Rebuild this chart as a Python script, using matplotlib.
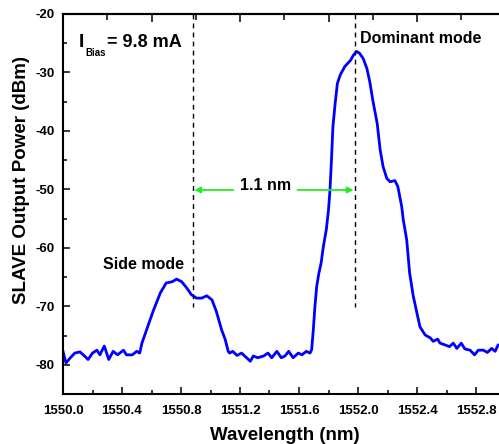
import matplotlib
matplotlib.use("Agg")
import matplotlib.pyplot as plt
from matplotlib.ticker import MultipleLocator, FixedLocator, NullFormatter

plt.rcParams['font.family'] = ['Liberation Sans', 'DejaVu Sans']
plt.rcParams['font.weight'] = 'bold'

# Spectrum (wavelength nm, power dBm)
wavelength = [
    1550.000, 1550.020, 1550.050, 1550.080, 1550.115, 1550.150, 1550.170, 1550.200,
    1550.230, 1550.250, 1550.280, 1550.310, 1550.340, 1550.370, 1550.410, 1550.430,
    1550.470, 1550.500, 1550.520, 1550.535, 1550.567, 1550.610, 1550.660, 1550.700,
    1550.740, 1550.770, 1550.805, 1550.840, 1550.870, 1550.905, 1550.940, 1550.975,
    1551.010, 1551.040, 1551.075, 1551.100, 1551.120, 1551.130, 1551.150, 1551.180,
    1551.210, 1551.245, 1551.270, 1551.290, 1551.320, 1551.360, 1551.390, 1551.415,
    1551.450, 1551.480, 1551.505, 1551.530, 1551.560, 1551.595, 1551.620, 1551.650,
    1551.675, 1551.686, 1551.697, 1551.708, 1551.720, 1551.735, 1551.750, 1551.765,
    1551.785, 1551.800, 1551.810, 1551.820, 1551.830, 1551.845, 1551.860, 1551.880,
    1551.910, 1551.950, 1551.970, 1551.990, 1552.010, 1552.035, 1552.060, 1552.080,
    1552.100, 1552.130, 1552.150, 1552.170, 1552.195, 1552.217, 1552.250, 1552.270,
    1552.296, 1552.307, 1552.330, 1552.350, 1552.375, 1552.400, 1552.420, 1552.455,
    1552.490, 1552.510, 1552.540, 1552.556, 1552.590, 1552.620, 1552.646, 1552.670,
    1552.700, 1552.725, 1552.760, 1552.790, 1552.816, 1552.850, 1552.877, 1552.906,
    1552.930, 1552.950, 1552.990,
]
power = [
    -77.7, -79.7, -78.8, -78.0, -77.8, -78.6, -79.1, -78.0,
    -77.5, -78.3, -76.8, -79.1, -77.7, -78.3, -77.5, -78.3,
    -78.3, -77.7, -78.0, -76.3, -74.0, -70.9, -67.7, -66.0,
    -65.8, -65.35, -65.8, -66.9, -68.0, -68.6, -68.6, -68.2,
    -68.9, -70.9, -74.0, -75.7, -77.7, -78.0, -77.7, -78.4,
    -78.0, -78.8, -79.4, -78.5, -78.8, -78.5, -78.0, -78.8,
    -77.7, -78.8, -78.5, -77.7, -78.8, -78.0, -78.3, -77.7,
    -78.0, -77.4, -74.0, -70.0, -66.6, -64.3, -62.6, -59.8,
    -56.9, -53.5, -50.1, -45.0, -39.3, -35.3, -31.9, -30.4,
    -29.0, -27.9, -27.0, -26.4, -26.7, -27.6, -29.3, -31.6,
    -34.7, -38.7, -43.2, -46.1, -48.1, -48.7, -48.5, -49.5,
    -52.9, -55.2, -58.6, -64.3, -68.3, -71.2, -73.5, -74.9,
    -75.4, -76.0, -75.6, -76.3, -76.6, -76.9, -76.3, -77.2,
    -76.3, -77.3, -77.5, -78.3, -77.5, -77.5, -77.9, -77.2,
    -77.7, -76.6, -77.0,
]

side_mode_wl = 1550.88
dominant_wl = 1551.98
gap_label = "1.1 nm"

W, H = 499, 444
fig = plt.figure(figsize=(W / 100, H / 100), dpi=100)
left, right = 63 / W, (63 + 442.5) / W
bottom, top = 1 - 394 / H, 1 - 14 / H
ax = fig.add_axes([left, bottom, right - left, top - bottom])

ax.plot(wavelength, power, color='#0000ff', lw=2.0, solid_joinstyle='round')

ax.set_xlim(1550.0, 1553.0)
ax.set_ylim(-85, -20)

ax.xaxis.set_major_locator(FixedLocator([1550.0, 1550.4, 1550.8, 1551.2, 1551.6, 1552.0, 1552.4, 1552.8]))
ax.xaxis.set_minor_locator(MultipleLocator(0.2))
ax.yaxis.set_major_locator(MultipleLocator(10))
ax.yaxis.set_minor_locator(MultipleLocator(5))
ax.xaxis.set_major_formatter(plt.FuncFormatter(lambda v, p: f"{v:.1f}"))
ax.yaxis.set_major_formatter(plt.FuncFormatter(lambda v, p: f"{int(round(v))}"))

ax.tick_params(which='both', direction='in', width=1.1, labelsize=9.5)
ax.tick_params(which='major', length=5)
ax.tick_params(which='minor', length=3)
ax.tick_params(axis='x', pad=8)
ax.tick_params(axis='y', pad=6)
for lbl in ax.get_xticklabels() + ax.get_yticklabels():
    lbl.set_fontweight('bold')

for s in ['left', 'bottom', 'top']:
    ax.spines[s].set_linewidth(1.5)
ax.spines['right'].set_visible(False)

sec = ax.secondary_xaxis('top')
sec.xaxis.set_major_locator(FixedLocator([1550.6, 1551.2, 1551.8, 1552.4]))
sec.xaxis.set_minor_locator(FixedLocator([1550.3, 1550.9, 1551.5, 1552.1, 1552.7]))
sec.xaxis.set_major_formatter(NullFormatter())
sec.tick_params(which='both', direction='in', width=1.1)
sec.tick_params(which='major', length=6)
sec.tick_params(which='minor', length=4)
sec.spines['top'].set_linewidth(1.5)

ax.set_xlabel("Wavelength (nm)", fontsize=13.5, fontweight='bold')
ax.xaxis.set_label_coords((285 - 63) / 442.5, (394 - 427) / 380)
ax.set_ylabel("SLAVE Output Power (dBm)", fontsize=13.5, fontweight='bold', va='center')
ax.yaxis.set_label_coords((22 - 63) / 442.5, (394 - 180) / 380)

# dashed markers
ax.plot([side_mode_wl, side_mode_wl], [-20, -70.1], color='black', lw=1.0, ls=(0, (3.5, 3)))
ax.plot([dominant_wl, dominant_wl], [-20, -70.1], color='black', lw=1.0, ls=(0, (3.5, 3)))

# green arrows
green = '#22ee22'
ax.annotate('', xy=(side_mode_wl + 0.01, -50.1), xytext=(1551.155, -50.1),
            arrowprops=dict(arrowstyle='-|>', color=green, lw=1.3, mutation_scale=9,
                            shrinkA=0, shrinkB=0))
ax.annotate('', xy=(dominant_wl - 0.01, -50.1), xytext=(1551.59, -50.1),
            arrowprops=dict(arrowstyle='-|>', color=green, lw=1.3, mutation_scale=9,
                            shrinkA=0, shrinkB=0))
ax.text(1551.375, -49.3, gap_label, fontsize=11.5, fontweight='bold', ha='center', va='center')

ax.text(1550.11, -24.9, "I", fontsize=14, fontweight='bold', ha='left', va='center')
ax.text(1550.155, -26.6, "Bias", fontsize=7, fontweight='bold', ha='left', va='center')
ax.text(1550.30, -24.9, "= 9.8 mA", fontsize=13, fontweight='bold', ha='left', va='center')

ax.text(1552.015, -24.2, "Dominant mode", fontsize=11.5, fontweight='bold', ha='left', va='center')
ax.text(1550.27, -62.9, "Side mode", fontsize=11.5, fontweight='bold', ha='left', va='center')

fig.savefig("out.png", dpi=100)
